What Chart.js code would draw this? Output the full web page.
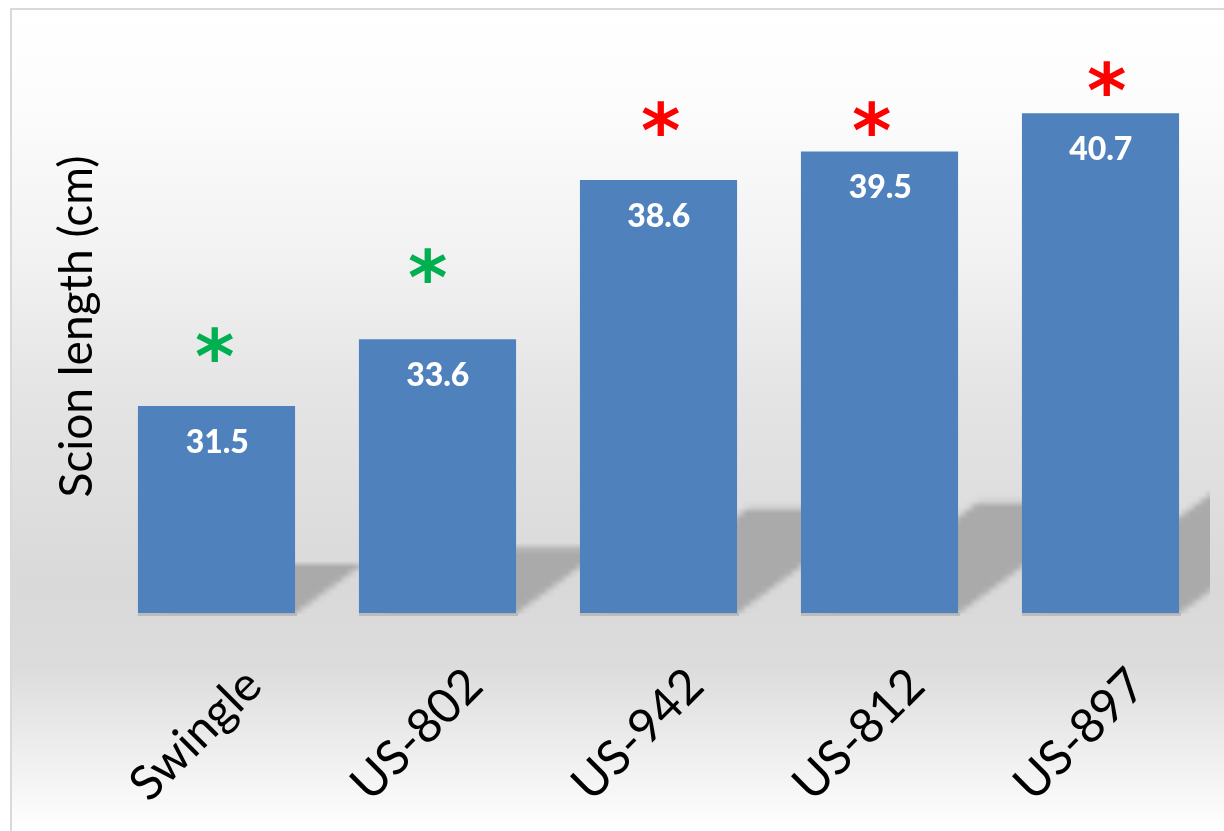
<!DOCTYPE html>
<html>
<head>
<meta charset="utf-8">
<title>Scion length</title>
<script src="https://cdn.jsdelivr.net/npm/chart.js@4.4.1/dist/chart.umd.min.js"></script>
<style>
  html, body { margin: 0; padding: 0; background: #fff; }
  #wrap { width: 1224px; height: 831px; }
</style>
</head>
<body>
<div id="wrap"><canvas id="chart" width="1224" height="831"></canvas></div>
<script>
const categories = ['Swingle', 'US-802', 'US-942', 'US-812', 'US-897'];
const scionLength = [31.5, 33.6, 38.6, 39.5, 40.7];
const markText = ['*', '*', '*', '*', '*'];
const markColors = ['#00b050', '#00b050', '#ff0000', '#ff0000', '#ff0000'];
const yMin = 25;
const yMax = 43;
const barShare = 0.711;

// draw text so that its glyph box is centred on (cx, cy)
function centredText(ctx, text, cx, cy) {
  ctx.textAlign = 'left';
  ctx.textBaseline = 'alphabetic';
  const m = ctx.measureText(text);
  const x = cx - (m.actualBoundingBoxRight - m.actualBoundingBoxLeft) / 2;
  const y = cy + (m.actualBoundingBoxAscent - m.actualBoundingBoxDescent) / 2;
  ctx.fillText(text, x, y);
}

// bar outline in pixels, taken from the scales
function barBox(chart, i) {
  const xs = chart.scales.x, ys = chart.scales.y;
  const step = xs.getPixelForValue(1) - xs.getPixelForValue(0);
  const cx = xs.getPixelForValue(i);
  const w = step * barShare;
  return {
    left: cx - w / 2,
    right: cx + w / 2,
    top: ys.getPixelForValue(scionLength[i]),
    base: ys.getPixelForValue(yMin)
  };
}

// slanted floor shadows of the bars, painted on a small canvas
// and scaled back up so their edges come out soft
function paintShadows(chart) {
  const { ctx, chartArea, width, height } = chart;
  const k = 6;
  const off = document.createElement('canvas');
  off.width = Math.ceil(width / k);
  off.height = Math.ceil(height / k);
  const o = off.getContext('2d');
  o.scale(1 / k, 1 / k);
  o.fillStyle = '#aaaaaa';
  const boxes = categories.map((c, i) => barBox(chart, i));
  boxes.forEach(b => {
    const rise = (b.base - b.top) * 0.24;
    const run = rise / 0.73;
    const inset = 25;
    o.beginPath();
    o.moveTo(b.left + inset, b.base);
    o.lineTo(b.right, b.base);
    o.lineTo(b.right + run, b.base - rise);
    o.lineTo(b.left + inset + run, b.base - rise);
    o.closePath();
    o.fill();
  });
  ctx.save();
  ctx.beginPath();
  ctx.rect(chartArea.left, chartArea.top, chartArea.right - chartArea.left - 1, chartArea.bottom - chartArea.top + 1);
  ctx.clip();
  ctx.imageSmoothingEnabled = true;
  ctx.drawImage(off, 0, 0, off.width * k, off.height * k);
  ctx.restore();

  // thin soft line under every bar
  ctx.save();
  ctx.fillStyle = 'rgba(150,150,150,0.45)';
  boxes.forEach(b => ctx.fillRect(b.left, b.base, b.right - b.left + 2, 3));
  ctx.restore();
}

// soft grey panel with a thin frame on the top and left
const panelBackground = {
  id: 'panelBackground',
  beforeDraw(chart) {
    const { ctx, width, height } = chart;
    ctx.save();
    ctx.fillStyle = '#ffffff';
    ctx.fillRect(0, 0, width, height);
    const g = ctx.createLinearGradient(0, 8, 0, height);
    g.addColorStop(0.00, '#ffffff');
    g.addColorStop(0.12, '#fcfcfc');
    g.addColorStop(0.30, '#f2f2f2');
    g.addColorStop(0.46, '#e5e5e5');
    g.addColorStop(0.70, '#d9d9d9');
    g.addColorStop(0.80, '#dcdcdc');
    g.addColorStop(0.92, '#f1f1f1');
    g.addColorStop(1.00, '#ffffff');
    ctx.fillStyle = g;
    ctx.fillRect(10, 8, width - 10, height - 8);
    ctx.strokeStyle = '#d9d9d9';
    ctx.lineWidth = 2;
    ctx.beginPath();
    ctx.moveTo(11, height);
    ctx.lineTo(11, 9);
    ctx.lineTo(width, 9);
    ctx.stroke();
    ctx.restore();
  },
  beforeDatasetsDraw(chart) {
    paintShadows(chart);
  }
};

// value inside the top of each bar and the significance mark above it
const barNotes = {
  id: 'barNotes',
  afterDatasetsDraw(chart, args, opts) {
    const { ctx } = chart;
    const values = chart.data.datasets[0].data;
    ctx.save();
    values.forEach((v, i) => {
      const b = barBox(chart, i);
      const x = (b.left + b.right) / 2;
      ctx.fillStyle = '#ffffff';
      ctx.font = '900 32px Lato';
      centredText(ctx, v.toFixed(1), x, b.top + 35);

      ctx.font = 'bold 100px "DejaVu Sans"';
      const m = ctx.measureText(markText[i]);
      const size = 100 * opts.markWidth / (m.actualBoundingBoxLeft + m.actualBoundingBoxRight);
      ctx.font = 'bold ' + size.toFixed(1) + 'px "DejaVu Sans"';
      ctx.fillStyle = markColors[i];
      centredText(ctx, markText[i], x + opts.markShift[i], b.top - opts.markLift[i]);
    });
    ctx.restore();
  }
};

new Chart(document.getElementById('chart'), {
  type: 'bar',
  data: {
    labels: categories,
    datasets: [{
      label: 'Scion length (cm)',
      data: scionLength,
      backgroundColor: '#4f81bd',
      borderWidth: 0,
      categoryPercentage: 1,
      barPercentage: barShare
    }]
  },
  options: {
    responsive: false,
    animation: false,
    events: [],
    layout: { padding: { left: 10, top: 40, right: 13, bottom: 0 } },
    plugins: {
      legend: { display: false },
      tooltip: { enabled: false },
      barNotes: {
        markWidth: 37,
        markLift: [62, 74, 62, 33, 35],
        markShift: [-2, -10, 2, -8, 6]
      }
    },
    scales: {
      x: {
        grid: { display: false, drawTicks: false },
        border: { display: false },
        ticks: {
          color: '#000000',
          font: { family: 'Lato', size: 48 },
          minRotation: 45,
          maxRotation: 45,
          labelOffset: 37,
          padding: 44
        },
        afterFit(scale) { scale.height = 218; }
      },
      y: {
        min: yMin,
        max: yMax,
        grid: { display: false, drawTicks: false },
        border: { display: false },
        ticks: { display: false },
        title: {
          display: true,
          text: 'Scion length (cm)',
          color: '#000000',
          font: { family: 'Lato', size: 46 },
          padding: { top: 40, bottom: 0 }
        },
        afterFit(scale) { scale.width = 96; }
      }
    }
  },
  plugins: [panelBackground, barNotes]
});
</script>
</body>
</html>
